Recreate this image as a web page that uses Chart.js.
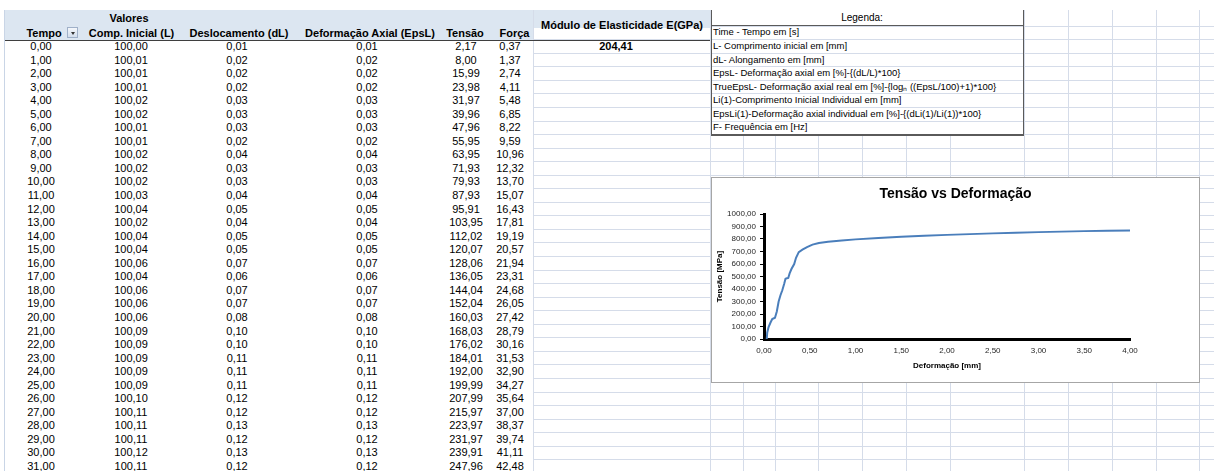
<!DOCTYPE html>
<html lang="pt">
<head>
<meta charset="utf-8">
<title>Tensão vs Deformação</title>
<script src="https://cdn.jsdelivr.net/npm/chart.js@4.4.1/dist/chart.umd.min.js"></script>
<style>
html, body { margin: 0; padding: 0; background: #fff; }
#folha { position: relative; width: 1214px; height: 471px; overflow: hidden;
         font-family: 'Liberation Sans', Arial, sans-serif; color: #000; }
.t { position: absolute; white-space: nowrap; font-size: 11px; height: 14px; line-height: 14px; }
.b { font-weight: bold; }
.ln { position: absolute; }
#grafico { position: absolute; left: 711px; top: 177px; width: 487px; height: 204px;
           border: 1px solid #a6a6a6; background: #fff; z-index: 5; }
#grafico canvas { display: block; }
</style>
</head>
<body>
<div id="folha">
  <div id="grafico"><canvas id="c" width="487" height="204"></canvas></div>
</div>
<script>
// ---- Tabela de ensaio ----
const tempo = [0,1,2,3,4,5,6,7,8,9,10,11,12,13,14,15,16,17,18,19,20,21,22,23,24,25,26,27,28,29,30,31];
const compInicial = [100.00,100.01,100.01,100.01,100.02,100.02,100.01,100.01,100.02,100.02,100.02,100.03,100.04,100.02,100.04,100.04,
                     100.06,100.04,100.06,100.06,100.06,100.09,100.09,100.09,100.09,100.09,100.10,100.11,100.11,100.11,100.12,100.11];
const deslocamento = [0.01,0.02,0.02,0.02,0.03,0.03,0.03,0.02,0.04,0.03,0.03,0.04,0.05,0.04,0.05,0.05,
                      0.07,0.06,0.07,0.07,0.08,0.10,0.10,0.11,0.11,0.11,0.12,0.12,0.13,0.12,0.13,0.12];
const deformacaoAxial = [0.01,0.02,0.02,0.02,0.03,0.03,0.03,0.02,0.04,0.03,0.03,0.04,0.05,0.04,0.05,0.05,
                         0.07,0.06,0.07,0.07,0.08,0.10,0.10,0.11,0.11,0.11,0.12,0.12,0.13,0.12,0.13,0.12];
const tensao = [2.17,8.00,15.99,23.98,31.97,39.96,47.96,55.95,63.95,71.93,79.93,87.93,95.91,103.95,112.02,120.07,
                128.06,136.05,144.04,152.04,160.03,168.03,176.02,184.01,192.00,199.99,207.99,215.97,223.97,231.97,239.91,247.96];
const forca = [0.37,1.37,2.74,4.11,5.48,6.85,8.22,9.59,10.96,12.32,13.70,15.07,16.43,17.81,19.19,20.57,
               21.94,23.31,24.68,26.05,27.42,28.79,30.16,31.53,32.90,34.27,35.64,37.00,38.37,39.74,41.11,42.48];
const moduloElasticidade = 204.41;

const cabecalhos = ['Tempo', 'Comp. Inicial (L)', 'Deslocamento (dL)', 'Deformação Axial (EpsL)', 'Tensão', 'Força'];

const legendaLinhas = [
  'Time - Tempo em [s]',
  'L- Comprimento inicial em [mm]',
  'dL- Alongamento em [mm]',
  'EpsL- Deformação axial em [%]-{(dL/L)*100}',
  'TrueEpsL- Deformação axial real em [%]-{logₙ ((EpsL/100)+1)*100}',
  'Li(1)-Comprimento Inicial Individual em [mm]',
  'EpsLi(1)-Deformação axial individual em [%]-{(dLi(1)/Li(1))*100}',
  'F- Frequência em [Hz]'
];

// ---- Curva tensão x deformação ----
const curvaDeformacao = [0.03,0.035,0.05,0.07,0.09,0.12,0.14,0.16,0.18,0.20,0.22,0.235,0.25,0.265,0.28,0.30,0.33,0.35,0.38,
                         0.42,0.47,0.53,0.60,0.70,0.85,1.00,1.25,1.50,1.75,2.00,2.25,2.50,2.75,3.00,3.25,3.50,3.75,4.00];
const curvaTensao = [0,50,95,130,160,170,220,300,350,390,440,482,486,488,525,560,600,650,695,
                     715,735,755,768,778,788,797,808,818,826,833,839,845,850,855,859,863,866,869];

// ---- Montagem da folha ----
const folha = document.getElementById('folha');
const ROW0 = 39.2, RH = 13.55;
const GRID = '#d5dce9';
const fmt = v => v.toFixed(2).replace('.', ',');

function caixa(x, y, w, h, bg, extra) {
  const d = document.createElement('div');
  d.className = 'ln';
  d.style.left = x + 'px'; d.style.top = y + 'px';
  d.style.width = w + 'px'; d.style.height = h + 'px';
  d.style.background = bg;
  if (extra) Object.assign(d.style, extra);
  folha.appendChild(d);
  return d;
}
function texto(str, cx, cy, opts = {}) {
  const d = document.createElement('div');
  d.className = 't' + (opts.bold ? ' b' : '');
  d.textContent = str;
  if (opts.left !== undefined) {
    d.style.left = opts.left + 'px';
  } else {
    d.style.left = (cx - 150) + 'px'; d.style.width = '300px'; d.style.textAlign = 'center';
  }
  d.style.top = (cy - 7) + 'px';
  if (opts.size) d.style.fontSize = opts.size + 'px';
  folha.appendChild(d);
  return d;
}

// linhas de grade da folha
for (let k = -1; k < 33; k++) {
  const y = Math.round(ROW0 + RH * k);
  caixa(533, y, 681, 1, GRID);
}
[533, 710, 1024, 1068, 1112, 1156, 1199].forEach(x => caixa(x, 10, 1, 461, GRID));
[743, 775, 818, 862, 906, 950].forEach(x => caixa(x, 135, 1, 336, GRID));
caixa(4, 10, 1, 461, '#c9d5e6');

// cabeçalho da tabela
caixa(5, 10, 528, 30, '#dce6f1');
caixa(534, 10, 176, 18, '#dce6f1');
caixa(5, 40, 705, 1, '#3f3f3f');
texto('Valores', 129, 18, { bold: true });
texto('Módulo de Elasticidade E(GPa)', 622, 24.5, { bold: true });

const centrosCab = [44, 131.5, 239, 370, 465, 514.5];
cabecalhos.forEach((c, i) => texto(c, centrosCab[i], 33, { bold: true }));

// botão de filtro
const btn = caixa(67, 27, 11, 11, 'linear-gradient(#f4f7fb,#d4deec)', { border: '1px solid #9fb0c8', boxSizing: 'border-box' });
const seta = document.createElement('div');
Object.assign(seta.style, { position: 'absolute', left: '2.5px', top: '3.5px', width: '0', height: '0',
  borderLeft: '2.5px solid transparent', borderRight: '2.5px solid transparent', borderTop: '3px solid #333' });
btn.appendChild(seta);

// linhas de dados
const colunas = [
  { v: tempo, cx: 41 },
  { v: compInicial, cx: 131 },
  { v: deslocamento, cx: 237 },
  { v: deformacaoAxial, cx: 367 },
  { v: tensao, cx: 466 },
  { v: forca, cx: 510 }
];
for (let r = 0; r < tempo.length; r++) {
  const cy = ROW0 + RH * r + RH / 2;
  colunas.forEach(c => texto(fmt(c.v[r]), c.cx, cy));
}
texto(fmt(moduloElasticidade), 616, ROW0 + RH / 2, { bold: true });

// quadro de legenda
caixa(711, 10, 1, 126, '#5a5a5a');
caixa(1023, 10, 1, 126, '#5a5a5a');
caixa(711, 25, 313, 1, '#5a5a5a');
caixa(711, 134, 313, 2, '#5a5a5a');
texto('Legenda:', 862, 18, { size: 10 });
legendaLinhas.forEach((l, i) => texto(l, 0, ROW0 - RH / 2 + RH * i, { left: 713, size: 9.5 }));

// ---- Gráfico ----
Chart.defaults.font.family = "'Liberation Sans', Arial, sans-serif";
const rotulo = v => Number(v).toFixed(2).replace('.', ',');

new Chart(document.getElementById('c'), {
  type: 'scatter',
  data: {
    datasets: [{
      data: curvaDeformacao.map((x, i) => ({ x, y: curvaTensao[i] })),
      showLine: true,
      borderColor: '#4a7ebb',
      borderWidth: 2,
      pointRadius: 0,
      tension: 0,
      xAxisID: 'x',
      yAxisID: 'y'
    }]
  },
  options: {
    responsive: false,
    devicePixelRatio: 1,
    animation: false,
    events: [],
    layout: { padding: { left: 0, right: 0, top: 0, bottom: 0 } },
    plugins: {
      legend: { display: false },
      tooltip: { enabled: false },
      title: {
        display: true,
        text: 'Tensão vs Deformação',
        color: '#000',
        font: { size: 14, weight: 'bold' },
        padding: { top: 8, bottom: 11.2 }
      }
    },
    scales: {
      x: {
        type: 'linear',
        position: 'bottom',
        min: 0, max: 4,
        grid: { display: false, drawTicks: false },
        border: { display: true, color: '#000', width: 3 },
        ticks: { stepSize: 0.5, autoSkip: false, padding: 7, color: '#262626', font: { size: 8 }, callback: rotulo, maxRotation: 0 },
        title: { display: true, text: 'Deformação [mm]', color: '#000', font: { size: 8, weight: 'bold' },
                 padding: { top: 0, bottom: 11 } },
        afterFit: s => { s.height = 43; }
      },
      y: {
        type: 'linear',
        position: 'left',
        min: 0, max: 1000,
        grid: { display: true, drawOnChartArea: false, drawTicks: true, tickLength: 4, color: '#000' },
        border: { display: true, color: '#000', width: 3 },
        ticks: { stepSize: 100, autoSkip: false, padding: 4, color: '#262626', font: { size: 8 }, callback: rotulo },
        title: { display: true, text: 'Tensão [MPa]', color: '#000', font: { size: 8, weight: 'bold' },
                 padding: { top: 3, bottom: 0 } },
        afterFit: s => { s.width = 52; }
      },
      margem: {
        type: 'linear',
        position: 'right',
        display: true,
        grid: { display: false, drawTicks: false },
        border: { display: false },
        ticks: { display: false },
        afterFit: s => { s.width = 69; }
      }
    }
  }
});
</script>
</body>
</html>
